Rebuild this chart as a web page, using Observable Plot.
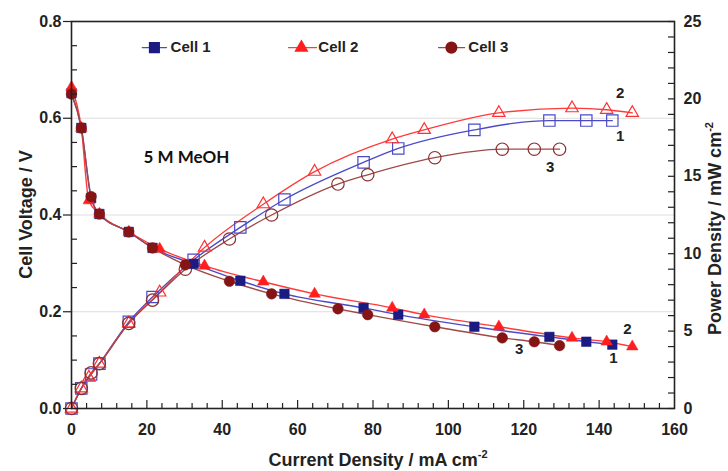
<!DOCTYPE html>
<html><head><meta charset="utf-8">
<script src="https://cdn.jsdelivr.net/npm/d3@7"></script>
<script src="https://cdn.jsdelivr.net/npm/@observablehq/plot@0.6"></script>
<style>
html,body{margin:0;padding:0;background:#fff;}
#chart{width:728px;height:471px;}
</style></head><body><div id="chart"></div>
<script>
// ---- data ----
const cellNames = ["Cell 1", "Cell 2", "Cell 3"];

const cell1Current = [0, 2.6, 5.2, 7.4, 15.2, 21.5, 32.4, 44.8, 56.5, 77.5, 86.7, 106.9, 126.8, 136.6, 143.5];
const cell1Voltage = [0.652, 0.58, 0.435, 0.402, 0.365, 0.332, 0.299, 0.264, 0.237, 0.208, 0.194, 0.169, 0.148, 0.138, 0.132];
const cell1Power   = [0, 1.3, 2.2, 2.9, 5.6, 7.2, 9.6, 11.7, 13.5, 15.9, 16.8, 18.0, 18.6, 18.6, 18.6];

const cell2Current = [0, 2.6, 4.6, 7.4, 15.2, 23.4, 35.3, 50.9, 64.5, 85.1, 93.6, 113.4, 132.8, 142.0, 148.8];
const cell2Voltage = [0.664, 0.58, 0.43, 0.402, 0.365, 0.33, 0.295, 0.262, 0.237, 0.208, 0.194, 0.169, 0.146, 0.138, 0.128];
const cell2Power   = [0, 1.3, 2.0, 2.9, 5.5, 7.5, 10.4, 13.2, 15.3, 17.4, 18.0, 19.1, 19.4, 19.3, 19.1];

const cell3Current = [0, 2.6, 5.2, 7.4, 15.2, 21.5, 30.2, 41.9, 53.1, 70.7, 78.6, 96.4, 114.3, 122.8, 129.5];
const cell3Voltage = [0.65, 0.58, 0.438, 0.402, 0.365, 0.332, 0.297, 0.263, 0.237, 0.206, 0.194, 0.169, 0.146, 0.138, 0.130];
const cell3Power   = [0, 1.3, 2.3, 2.9, 5.5, 7.0, 9.0, 10.95, 12.5, 14.5, 15.1, 16.2, 16.75, 16.75, 16.75];

const voltageTicks = [0, 0.2, 0.4, 0.6, 0.8];
const powerTicks = [0, 5, 10, 15, 20, 25];
const currentTicks = [0, 20, 40, 60, 80, 100, 120, 140, 160];
const gridValues = [0.2, 0.4, 0.6];

const curveLabels = [
  {text: "2", current: 145.6, voltage: 0.652},
  {text: "1", current: 145.6, voltage: 0.563},
  {text: "3", current: 127.0, voltage: 0.499},
  {text: "2", current: 147.5, voltage: 0.163},
  {text: "1", current: 143.8, voltage: 0.103},
  {text: "3", current: 118.8, voltage: 0.122}
];
const noteText = "5 M MeOH";

// ---- layout / style ----
const W = 728, H = 471, mL = 71, mR = 54, mT = 21, mB = 63;
const frameW = W - mL - mR, frameH = H - mT - mB;
const VMAX = 0.8, PMAX = 25, k = VMAX / PMAX;
const styles = [
  {symbol: "square",   r: 5.4, rOpen: 6.4, fill: "#1b1b82", line: "#4a4ac8", open: "#4a4ac8"},
  {symbol: "triangle", r: 4.3, rOpen: 4.6, fill: "#ff1e1e", line: "#ff3a3a", open: "#ff3030"},
  {symbol: "circle",   r: 5.3, rOpen: 6.2, fill: "#851515", line: "#a04848", open: "#8a3030"}
];
const legendLayout = {voltage: 0.746, items: [
  {x1: 18.8, x2: 25.2, xm: 22.0, xt: 26.3},
  {x1: 57.6, x2: 65.0, xm: 61.0, xt: 65.5},
  {x1: 97.4, x2: 104.3, xm: 100.8, xt: 105.3}
]};

const raw = [
  [cell1Current, cell1Voltage, cell1Power],
  [cell2Current, cell2Voltage, cell2Power],
  [cell3Current, cell3Voltage, cell3Power]
];
const series = raw.map(([c, v, p], i) => ({
  name: cellNames[i],
  volt: c.map((x, j) => ({x, y: v[j]})),
  power: c.map((x, j) => ({x, y: p[j] * k})),
  ...styles[i]
}));

const marks = [];
marks.push(Plot.ruleY(gridValues, {stroke: "#dddddd", strokeWidth: 1}));
for (const s of series) {
  marks.push(Plot.line(s.volt, {x: "x", y: "y", stroke: s.line, strokeWidth: 1.4, curve: "monotone-x"}));
  marks.push(Plot.line(s.power, {x: "x", y: "y", stroke: s.line, strokeWidth: 1.3, curve: "monotone-x"}));
}
for (const s of series) {
  marks.push(Plot.dot(s.power, {x: "x", y: "y", symbol: s.symbol, r: s.rOpen, stroke: s.open, fill: "none", strokeWidth: 1.2}));
}
for (const s of series) {
  marks.push(Plot.dot(s.volt, {x: "x", y: "y", symbol: s.symbol, r: s.r, fill: s.fill, stroke: s.fill, strokeWidth: 0.5}));
}
// legend
series.forEach((s, i) => {
  const L = legendLayout.items[i], y = legendLayout.voltage;
  marks.push(Plot.line([{x: L.x1, y}, {x: L.x2, y}], {x: "x", y: "y", stroke: s.line, strokeWidth: 1.4}));
  marks.push(Plot.dot([{x: L.xm, y}], {x: "x", y: "y", symbol: s.symbol, r: s.r, fill: s.fill, stroke: s.fill}));
  marks.push(Plot.text([{x: L.xt, y, t: s.name}], {x: "x", y: "y", text: "t", textAnchor: "start", fontSize: 15, fontWeight: "bold", fill: "#222"}));
});
// curve labels and note
marks.push(Plot.text(curveLabels, {x: "current", y: "voltage", text: "text", fontSize: 15, fontWeight: "bold", fill: "#222"}));
marks.push(Plot.text([noteText], {x: 19.1, y: 0.518, text: d => d, textAnchor: "start", fontFamily: "Lato, 'Open Sans', sans-serif", fontSize: 17, fontWeight: "bold", fill: "#111"}));

// ticks
const vMinor = d3.range(0, 0.8001, 0.05).map(v => +v.toFixed(2)).filter(v => !voltageTicks.includes(v));
const pMinor = d3.range(0, 26, 1).map(p => p * k);
const cMinor = d3.range(0, 161, 4).filter(c => c % 20 !== 0);
const cMajor = currentTicks.slice(1, -1);
marks.push(Plot.tickY(vMinor, {y: d => d, insetRight: frameW - 6, stroke: "#222", strokeWidth: 1.2}));
marks.push(Plot.tickY(pMinor, {y: d => d, insetLeft: frameW - 6, stroke: "#222", strokeWidth: 1.2}));
marks.push(Plot.tickX(cMinor, {x: d => d, insetTop: frameH - 5, stroke: "#222", strokeWidth: 1.2}));
marks.push(Plot.tickX(cMajor, {x: d => d, insetTop: frameH - 8, stroke: "#222", strokeWidth: 1.2}));
marks.push(Plot.axisY(voltageTicks, {anchor: "left", tickSize: 8, tickPadding: 2, tickFormat: d3.format(".1f"), label: null, fontSize: 16, fontWeight: "bold", fill: "#222", stroke: "#222", strokeWidth: 1.2}));
marks.push(Plot.axisY(powerTicks.map(p => p * k), {anchor: "right", tickSize: 0, tickPadding: 9, tickFormat: v => String(Math.round(v / k)), label: null, fontSize: 16, fontWeight: "bold", fill: "#222"}));
marks.push(Plot.axisX(currentTicks, {anchor: "bottom", tickSize: 0, tickPadding: 15, label: null, fontSize: 16, fontWeight: "bold", fill: "#222"}));
marks.push(Plot.frame({stroke: "#222", strokeWidth: 1.6}));

const chart = Plot.plot({
  width: W, height: H,
  marginLeft: mL, marginRight: mR, marginTop: mT, marginBottom: mB,
  x: {domain: [0, 160]},
  y: {domain: [0, VMAX]},
  style: {fontFamily: "'Liberation Sans', Arial, sans-serif", fontSize: "16px", background: "#fff", overflow: "visible"},
  marks
});
document.getElementById("chart").appendChild(chart);

// axis titles (with superscripts)
const svg = d3.select(chart);
const titleStyle = t => t.attr("font-family", "'Liberation Sans', Arial, sans-serif").attr("font-size", 18).attr("font-weight", "bold").attr("fill", "#222").attr("text-anchor", "middle");
titleStyle(svg.append("text")).attr("transform", `translate(32,${mT + frameH / 2}) rotate(-90)`).text("Cell Voltage / V");
const bt = titleStyle(svg.append("text")).attr("x", 378).attr("y", 466);
bt.append("tspan").text("Current Density / mA cm");
bt.append("tspan").attr("dy", -8).attr("font-size", 11).text("-2");
const rt = titleStyle(svg.append("text")).attr("transform", `translate(721,${mT + frameH / 2 + 14}) rotate(-90)`);
rt.append("tspan").text("Power Density / mW cm");
rt.append("tspan").attr("dy", -8).attr("font-size", 11).text("-2");
</script>
</body></html>
